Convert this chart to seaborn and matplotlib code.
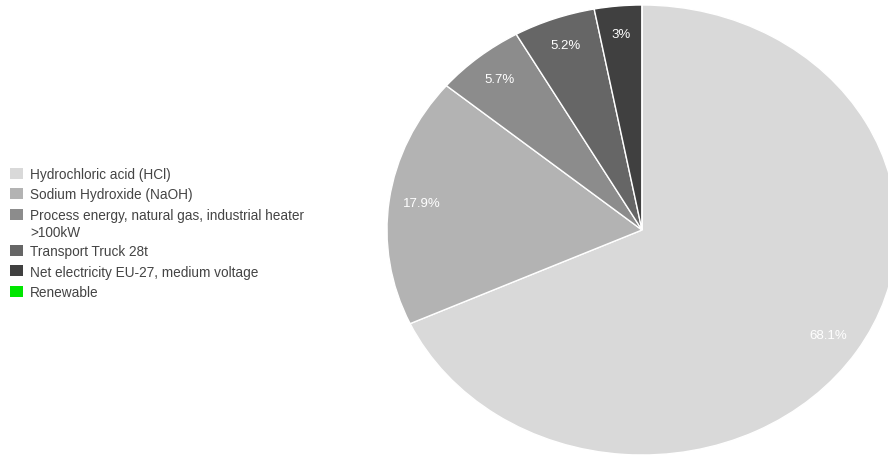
import matplotlib
matplotlib.use("Agg")
import matplotlib.pyplot as plt
from matplotlib.patches import Rectangle
import seaborn as sns

# Contribution of each input to the total impact (%)
categories = [
    "Hydrochloric acid (HCl)",
    "Sodium Hydroxide (NaOH)",
    "Process energy, natural gas, industrial heater\n>100kW",
    "Transport Truck 28t",
    "Net electricity EU-27, medium voltage",
    "Renewable",
]
shares = [68.1, 17.9, 5.7, 5.2, 3.0, 0.0]
colors = ["#d9d9d9", "#b3b3b3", "#8c8c8c", "#666666", "#404040", "#00e600"]

sns.set_theme(style="white")
plt.rcParams["font.family"] = ["Liberation Sans", "DejaVu Sans"]

W, H = 888, 457
fig = plt.figure(figsize=(W / 100, H / 100), dpi=100)
fig.patch.set_facecolor("white")

# Pie axes: slightly wider than tall, running past the right edge
cx, cy = 642, 227
rx, ry = 255, 225
ax = fig.add_axes([(cx - rx) / W, (cy - ry) / H, 2 * rx / W, 2 * ry / H])

total = sum(shares)


def pct_label(p):
    value = p * total / 100.0
    if value < 0.5:
        return ""
    return f"{value:.1f}".rstrip("0").rstrip(".") + "%"


ax.pie(
    shares,
    colors=colors,
    startangle=90,
    counterclock=False,
    autopct=pct_label,
    pctdistance=0.87,
    wedgeprops=dict(edgecolor="white", linewidth=1.0),
    textprops=dict(color="white", fontsize=9.5),
    radius=1.0,
)
ax.set_aspect("auto")
ax.set_xlim(-1, 1)
ax.set_ylim(-1, 1)
ax.axis("off")


# Legend drawn as swatches and labels in pixel coordinates
def px(x, y):
    return x / W, 1 - y / H


y = 173.0
for name, col in zip(categories, colors):
    n_lines = name.count("\n") + 1
    x0, y0 = px(10, y + 5.5)
    fig.patches.append(
        Rectangle((x0, y0), 12.5 / W, 11 / H, transform=fig.transFigure,
                  facecolor=col, edgecolor="none")
    )
    tx, ty = px(30, y - 5.0)
    fig.text(tx, ty, name, fontsize=9.8, color="#444444", ha="left",
             va="top", linespacing=1.3)
    y += 20.5 + 15.5 * (n_lines - 1)

fig.savefig("out.png", dpi=100, facecolor="white")
